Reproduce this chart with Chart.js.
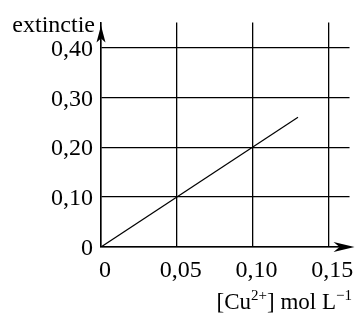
<!DOCTYPE html>
<html>
<head>
<meta charset="utf-8">
<script src="https://cdn.jsdelivr.net/npm/chart.js@4/dist/chart.umd.min.js"></script>
<style>
  html, body { margin: 0; padding: 0; background: #fff; }
  #wrap { width: 359px; height: 314px; position: relative; }
</style>
</head>
<body>
<div id="wrap"><canvas id="chart"></canvas></div>
<script>
  // data
  const xTicks = [0, 0.05, 0.10, 0.15];
  const xTickLabels = ['0', '0,05', '0,10', '0,15'];
  const yTicks = [0, 0.10, 0.20, 0.30, 0.40];
  const yTickLabels = ['0', '0,10', '0,20', '0,30', '0,40'];
  const concentration = [0, 0.13];
  const extinction = [0, 0.26];

  const FONT = '"Liberation Serif", "Times New Roman", serif';

  // arrows at the end of the axes + the two axis titles
  const axisDecor = {
    id: 'axisDecor',
    afterDraw(chart) {
      const ctx = chart.ctx;
      const a = chart.chartArea;
      ctx.save();
      ctx.fillStyle = '#000';
      ctx.strokeStyle = '#000';
      ctx.lineWidth = 1.5;

      // x axis extension + arrow
      const tipX = a.right + 5;
      ctx.beginPath();
      ctx.moveTo(a.right, a.bottom);
      ctx.lineTo(tipX - 6, a.bottom);
      ctx.stroke();
      ctx.beginPath();
      ctx.moveTo(tipX, a.bottom);
      ctx.lineTo(tipX - 21, a.bottom - 5);
      ctx.lineTo(tipX - 15, a.bottom);
      ctx.lineTo(tipX - 21, a.bottom + 5);
      ctx.closePath();
      ctx.fill();

      // y axis arrow
      const tipY = a.top + 3;
      ctx.beginPath();
      ctx.moveTo(a.left, tipY);
      ctx.lineTo(a.left - 4.5, tipY + 17);
      ctx.lineTo(a.left, tipY + 13);
      ctx.lineTo(a.left + 4.5, tipY + 17);
      ctx.closePath();
      ctx.fill();

      // y title
      ctx.font = '24px ' + FONT;
      ctx.textBaseline = 'alphabetic';
      ctx.textAlign = 'right';
      ctx.fillText('extinctie', a.left - 6, 32);

      // x title with superscripts, right aligned
      const parts = [
        ['[Cu', 23, 0], ['2+', 15, -9], ['] mol L', 23, 0], ['\u22121', 15, -9]
      ];
      let total = 0;
      parts.forEach(p => { ctx.font = p[1] + 'px ' + FONT; total += ctx.measureText(p[0]).width; });
      let x = 352 - total;
      ctx.textAlign = 'left';
      parts.forEach(p => {
        ctx.font = p[1] + 'px ' + FONT;
        ctx.fillText(p[0], x, 309 + p[2]);
        x += ctx.measureText(p[0]).width;
      });
      ctx.restore();
    }
  };

  new Chart(document.getElementById('chart'), {
    type: 'scatter',
    data: {
      datasets: [{
        data: concentration.map((c, i) => ({ x: c, y: extinction[i] })),
        showLine: true,
        borderColor: '#000',
        borderWidth: 1.2,
        pointRadius: 0,
        fill: false,
      }],
    },
    options: {
      responsive: true,
      maintainAspectRatio: false,
      animation: false,
      layout: { padding: { left: 0, right: 8, top: 20, bottom: 0 } },
      plugins: { legend: { display: false }, tooltip: { enabled: false } },
      scales: {
        x: {
          type: 'linear',
          min: 0,
          max: 0.164,
          afterBuildTicks: (s) => { s.ticks = xTicks.map(v => ({ value: v })); },
          afterFit: (s) => { s.height = 67; },
          grid: { color: '#000', lineWidth: 1.3, drawTicks: false },
          border: { color: '#000', width: 1.5 },
          ticks: {
            color: '#000',
            font: { family: FONT, size: 24 },
            padding: 9,
            labelOffset: 4,
            maxRotation: 0,
            callback: (v) => xTickLabels[xTicks.indexOf(v)],
          },
        },
        y: {
          type: 'linear',
          min: 0,
          max: 0.45,
          afterBuildTicks: (s) => { s.ticks = yTicks.map(v => ({ value: v })); },
          afterFit: (s) => { s.width = 101; },
          grid: { color: '#000', lineWidth: 1.3, drawTicks: false },
          border: { color: '#000', width: 1.5 },
          ticks: {
            color: '#000',
            font: { family: FONT, size: 24 },
            padding: 8,
            labelOffset: 2,
            callback: (v) => yTickLabels[yTicks.indexOf(v)],
          },
        },
      },
    },
    plugins: [axisDecor],
  });
</script>
</body>
</html>
